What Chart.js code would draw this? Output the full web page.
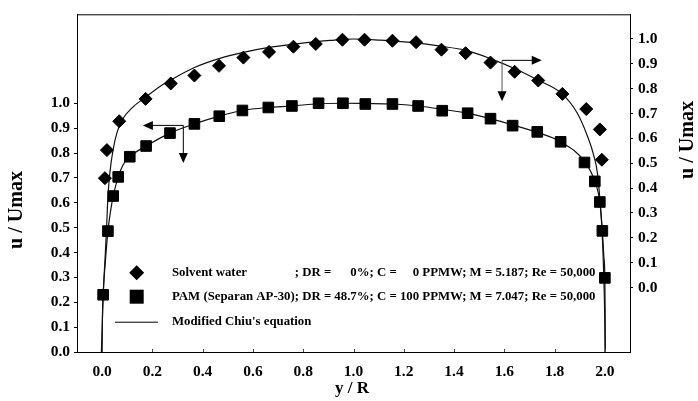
<!DOCTYPE html>
<html>
<head>
<meta charset="utf-8">
<script src="https://cdn.jsdelivr.net/npm/chart.js@4.4.1/dist/chart.umd.min.js"></script>
<style>
  html, body { margin: 0; padding: 0; background: #fff; }
</style>
</head>
<body>
<canvas id="profileChart" width="698" height="401"></canvas>
<script>
// Solvent water: measured u/Umax across the pipe (right axis)
const waterX = [0.011, 0.019, 0.068, 0.173, 0.273, 0.367, 0.465, 0.562, 0.664, 0.761, 0.850, 0.956,
                1.044, 1.155, 1.249, 1.350, 1.446, 1.545, 1.641, 1.735, 1.831, 1.926, 1.980, 1.988];
const waterU = [0.440, 0.553, 0.669, 0.759, 0.821, 0.853, 0.892, 0.925, 0.948, 0.969, 0.980, 0.997,
                0.997, 0.993, 0.987, 0.957, 0.943, 0.905, 0.868, 0.833, 0.779, 0.718, 0.636, 0.514];

// PAM (Separan AP-30) 100 ppmw: measured u/Umax (left axis)
const pamX = [0.004, 0.023, 0.044, 0.064, 0.110, 0.175, 0.270, 0.367, 0.466, 0.558, 0.661, 0.755, 0.861, 0.958,
              1.047, 1.155, 1.257, 1.353, 1.454, 1.545, 1.633, 1.731, 1.824, 1.919, 1.960, 1.980, 1.990, 2.000];
const pamU = [0.230, 0.486, 0.627, 0.704, 0.785, 0.828, 0.880, 0.917, 0.948, 0.971, 0.983, 0.989, 1.000, 1.000,
              0.997, 0.997, 0.989, 0.970, 0.960, 0.938, 0.910, 0.885, 0.845, 0.762, 0.686, 0.603, 0.487, 0.298];

// Modified Chiu's equation, solvent water (right axis)
const waterFitX = [-0.003, 0.001, 0.005, 0.011, 0.017, 0.023, 0.031, 0.043, 0.059, 0.082, 0.118, 0.173, 0.230,
                   0.270, 0.367, 0.465, 0.562, 0.664, 0.789, 0.907, 1.000, 1.106, 1.226, 1.346, 1.448, 1.545,
                   1.640, 1.735, 1.830, 1.890, 1.930, 1.956, 1.971, 1.981, 1.989, 1.995, 1.999, 2.001];
const waterFitU = [-0.259, -0.132, -0.013, 0.106, 0.225, 0.364, 0.464, 0.551, 0.623, 0.678, 0.722, 0.766, 0.809,
                   0.833, 0.885, 0.921, 0.946, 0.966, 0.982, 0.994, 1.000, 0.995, 0.986, 0.971, 0.954, 0.921,
                   0.881, 0.834, 0.779, 0.702, 0.611, 0.531, 0.456, 0.344, 0.225, 0.066, -0.093, -0.259];

// Modified Chiu's equation, PAM solution (left axis)
const pamFitX = [0.000, 0.001, 0.004, 0.013, 0.023, 0.033, 0.044, 0.064, 0.082, 0.110, 0.175, 0.270, 0.367,
                 0.466, 0.558, 0.661, 0.755, 0.861, 0.958, 1.047, 1.155, 1.257, 1.353, 1.454, 1.545, 1.633,
                 1.731, 1.824, 1.919, 1.960, 1.980, 1.990, 1.996, 2.000, 2.001, 2.002];
const pamFitU = [0.000, 0.126, 0.230, 0.365, 0.486, 0.563, 0.627, 0.704, 0.750, 0.785, 0.828, 0.880, 0.917,
                 0.948, 0.971, 0.983, 0.989, 0.998, 1.000, 0.999, 0.997, 0.989, 0.976, 0.960, 0.938, 0.913,
                 0.883, 0.845, 0.766, 0.686, 0.603, 0.487, 0.384, 0.297, 0.166, 0.000];

const xTicks = [0.0, 0.2, 0.4, 0.6, 0.8, 1.0, 1.2, 1.4, 1.6, 1.8, 2.0];
const uTicks = [0.0, 0.1, 0.2, 0.3, 0.4, 0.5, 0.6, 0.7, 0.8, 0.9, 1.0];

const legendRows = [
  ['Solvent water', '; DR =      0%; C =     0 PPMW; M = 5.187; Re = 50,000'],
  ['PAM (Separan AP-30)', '; DR = 48.7%; C = 100 PPMW; M = 7.047; Re = 50,000'],
  ["Modified Chiu's equation", '']
];

const SERIF = "'Liberation Serif', 'Times New Roman', serif";

function pts(xs, ys) {
  return xs.map((x, i) => ({ x: x, y: ys[i] }));
}

function fixedTicks(list) {
  return scale => { scale.ticks = list.map(v => ({ value: v })); };
}

function arrow(ctx, x0, y0, x1, y1) {
  const a = Math.atan2(y1 - y0, x1 - x0);
  ctx.beginPath();
  ctx.moveTo(x0, y0);
  ctx.lineTo(x1, y1);
  ctx.stroke();
  ctx.beginPath();
  ctx.moveTo(x1 + Math.cos(a) * 2, y1 + Math.sin(a) * 2);
  ctx.lineTo(x1 - Math.cos(a) * 8 - Math.sin(a) * 4.5, y1 - Math.sin(a) * 8 + Math.cos(a) * 4.5);
  ctx.lineTo(x1 - Math.cos(a) * 8 + Math.sin(a) * 4.5, y1 - Math.sin(a) * 8 - Math.cos(a) * 4.5);
  ctx.closePath();
  ctx.fill();
}

// frame, inner x ticks, axis-pointer arrows, legend and axis titles
const decorations = {
  id: 'decorations',
  afterDraw(chart) {
    const ctx = chart.ctx;
    const area = chart.chartArea;
    const sx = chart.scales.x, sl = chart.scales.y, sr = chart.scales.y2;
    ctx.save();
    ctx.strokeStyle = '#000';
    ctx.fillStyle = '#000';
    ctx.lineWidth = 1;

    // top edge of frame
    ctx.beginPath();
    ctx.moveTo(area.left, area.top + 0.5);
    ctx.lineTo(area.right, area.top + 0.5);
    ctx.stroke();

    // x ticks point into the plot
    ctx.strokeStyle = '#444';
    xTicks.forEach(v => {
      const px = Math.round(sx.getPixelForValue(v)) + 0.5;
      ctx.beginPath();
      ctx.moveTo(px, area.bottom);
      ctx.lineTo(px, area.bottom - 3);
      ctx.stroke();
    });

    // arrows showing which axis each profile belongs to
    ctx.strokeStyle = '#000';
    const lx = sx.getPixelForValue(0.323), ly = sl.getPixelForValue(0.911);
    arrow(ctx, lx, ly, sx.getPixelForValue(0.170), ly);
    arrow(ctx, lx, ly, lx, sl.getPixelForValue(0.768));
    const rx = sx.getPixelForValue(1.591), ry = sr.getPixelForValue(0.914);
    arrow(ctx, rx, ry, sx.getPixelForValue(1.741), ry);
    ctx.strokeStyle = '#555';
    arrow(ctx, rx, ry, rx, sr.getPixelForValue(0.758));

    // legend
    ctx.strokeStyle = '#000';
    const mx = 136.7, rowY = [272.7, 296.7, 321.7], tx = 172;
    ctx.beginPath();
    ctx.moveTo(mx, rowY[0] - 7.5);
    ctx.lineTo(mx + 7.5, rowY[0]);
    ctx.lineTo(mx, rowY[0] + 7.5);
    ctx.lineTo(mx - 7.5, rowY[0]);
    ctx.closePath();
    ctx.fill();
    ctx.fillRect(mx - 7, rowY[1] - 7, 14, 14);
    ctx.beginPath();
    ctx.moveTo(115, rowY[2] + 0.5);
    ctx.lineTo(158, rowY[2] + 0.5);
    ctx.stroke();

    ctx.font = 'bold 12.8px ' + SERIF;
    ctx.textBaseline = 'middle';
    ctx.textAlign = 'left';
    const tailX = tx + ctx.measureText(legendRows[1][0]).width;
    legendRows.forEach((row, i) => {
      ctx.fillText(row[0], tx, rowY[i]);
      if (row[1]) ctx.fillText(row[1], tailX, rowY[i]);
    });

    // axis titles
    ctx.font = 'bold 17px ' + SERIF;
    ctx.textAlign = 'center';
    ctx.fillText('y / R', 352, 389);
    ctx.font = 'bold 20px ' + SERIF;
    ctx.save();
    ctx.translate(17, 210);
    ctx.rotate(-Math.PI / 2);
    ctx.fillText('u / Umax', 0, 0);
    ctx.restore();
    ctx.save();
    ctx.translate(688, 140);
    ctx.rotate(-Math.PI / 2);
    ctx.fillText('u / Umax', 0, 0);
    ctx.restore();

    ctx.restore();
  }
};

const tickFont = { family: SERIF, size: 15.5, weight: 'bold' };

new Chart(document.getElementById('profileChart').getContext('2d'), {
  type: 'scatter',
  data: {
    datasets: [
      {
        label: 'Solvent water',
        data: pts(waterX, waterU),
        yAxisID: 'y2',
        pointStyle: 'rectRot',
        pointRadius: 6.5,
        backgroundColor: '#000',
        borderColor: '#000',
        borderWidth: 1
      },
      {
        label: 'PAM (Separan AP-30)',
        data: pts(pamX, pamU),
        yAxisID: 'y',
        pointStyle: 'rect',
        pointRadius: 7.5,
        backgroundColor: '#000',
        borderColor: '#000',
        borderWidth: 1
      },
      {
        type: 'line',
        label: "Modified Chiu's equation (water)",
        data: pts(waterFitX, waterFitU),
        yAxisID: 'y2',
        showLine: true,
        pointRadius: 0,
        borderColor: '#111',
        borderWidth: 1.2,
        cubicInterpolationMode: 'monotone'
      },
      {
        type: 'line',
        label: "Modified Chiu's equation (PAM)",
        data: pts(pamFitX, pamFitU),
        yAxisID: 'y',
        showLine: true,
        pointRadius: 0,
        borderColor: '#111',
        borderWidth: 1.2,
        cubicInterpolationMode: 'monotone'
      }
    ]
  },
  options: {
    responsive: false,
    animation: false,
    devicePixelRatio: 1,
    layout: { padding: { top: 10, left: 0, right: 0, bottom: 0 } },
    plugins: {
      legend: { display: false },
      tooltip: { enabled: false }
    },
    scales: {
      x: {
        type: 'linear',
        min: -0.1,
        max: 2.1,
        afterBuildTicks: fixedTicks(xTicks),
        afterFit: s => { s.height = 49; },
        grid: { drawOnChartArea: false, drawTicks: false },
        border: { color: '#000', width: 1 },
        ticks: {
          color: '#000',
          font: tickFont,
          padding: 11,
          maxRotation: 0,
          callback: v => v.toFixed(1)
        }
      },
      y: {
        position: 'left',
        min: 0,
        max: 1.3576,
        afterBuildTicks: fixedTicks(uTicks),
        afterFit: s => { s.width = 77; },
        grid: { drawOnChartArea: false, tickLength: 3, tickColor: '#000' },
        border: { color: '#000', width: 1 },
        ticks: { color: '#000', font: tickFont, padding: 4, callback: v => v.toFixed(1) }
      },
      y2: {
        position: 'right',
        min: -0.2594,
        max: 1.0993,
        afterBuildTicks: fixedTicks(uTicks),
        afterFit: s => { s.width = 68; },
        grid: { drawOnChartArea: false, tickLength: 3, tickColor: '#000' },
        border: { color: '#000', width: 1 },
        ticks: { color: '#000', font: tickFont, padding: 5, callback: v => v.toFixed(1) }
      }
    }
  },
  plugins: [decorations]
});
</script>
</body>
</html>
